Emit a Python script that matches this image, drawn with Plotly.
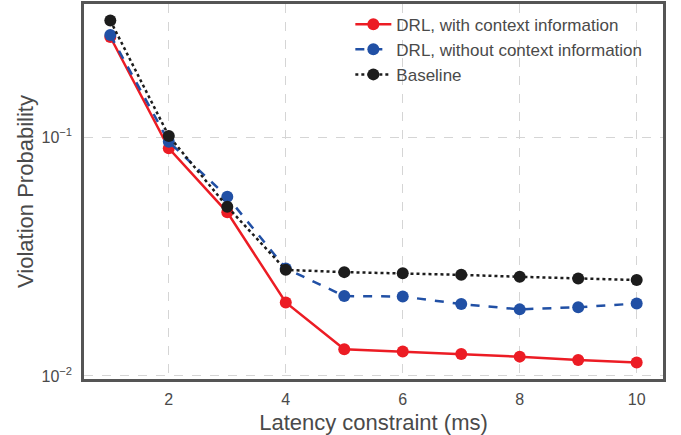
import plotly.graph_objects as go

latency = [1, 2, 3, 4, 5, 6, 7, 8, 9, 10]
drl_ctx = [0.262, 0.0897, 0.0484, 0.0203, 0.01294, 0.01265, 0.01236, 0.01205, 0.01166, 0.01138]
drl_noctx = [0.267, 0.0955, 0.0562, 0.0282, 0.0216, 0.0215, 0.0200, 0.0190, 0.0194, 0.0201]
baseline = [0.307, 0.101, 0.0511, 0.0278, 0.0272, 0.0269, 0.0265, 0.0260, 0.0256, 0.0252]

x_ticks = [2, 4, 6, 8, 10]
y_ticks = [0.01, 0.1]
y_ticktext = ["10<sup>−2</sup>", "10<sup>−1</sup>"]

names = ["DRL, with context information", "DRL, without context information", "Baseline"]
colors = ["#ec1c24", "#2150a5", "#1c1c1c"]
dashes = ["solid", "dash", "dot"]

fig = go.Figure()
for ys, nm, c, d in zip([drl_ctx, drl_noctx, baseline], names, colors, dashes):
    fig.add_trace(go.Scatter(
        x=latency, y=ys, name=nm, mode="lines+markers",
        line=dict(color=c, width=2.5, dash=d),
        marker=dict(color=c, size=12),
    ))

font_family = "Liberation Sans, Arial, sans-serif"
txt = "#4a4a4a"
fig.update_layout(
    width=681, height=435,
    margin=dict(l=84, r=18, t=4, b=56, autoexpand=False),
    paper_bgcolor="white", plot_bgcolor="white",
    font=dict(family=font_family, color=txt),
    showlegend=True,
    legend=dict(
        x=0.46, y=0.993, xanchor="left", yanchor="top",
        bgcolor="rgba(0,0,0,0)", font=dict(size=17, color=txt),
        tracegroupgap=0, itemwidth=36,
    ),
    xaxis=dict(
        range=[0.55, 10.45], tickvals=x_ticks, automargin=False,
        showgrid=True, gridcolor="#d5d5d5", griddash="dash", gridwidth=1,
        showline=True, linecolor="#555555", linewidth=2.5, mirror=True,
        zeroline=False, ticks="", tickfont=dict(size=16, color=txt),
        ticklabelstandoff=4,
        title=dict(text="Latency constraint (ms)", font=dict(size=22, color=txt), standoff=10),
    ),
    yaxis=dict(
        type="log", range=[-2.0126, -0.4435], automargin=False,
        tickvals=y_ticks, ticktext=y_ticktext,
        showgrid=True, gridcolor="#d5d5d5", griddash="dash", gridwidth=1,
        showline=True, linecolor="#555555", linewidth=2.5, mirror=True,
        zeroline=False, ticks="", tickfont=dict(size=16, color=txt),
        ticklabelstandoff=6,
        title=dict(text="Violation Probability", font=dict(size=22, color=txt), standoff=2),
    ),
)

fig.write_html(
    "out.html",
    config={"displayModeBar": False},
    post_script="document.body.style.margin='0';document.body.style.padding='0';",
)
